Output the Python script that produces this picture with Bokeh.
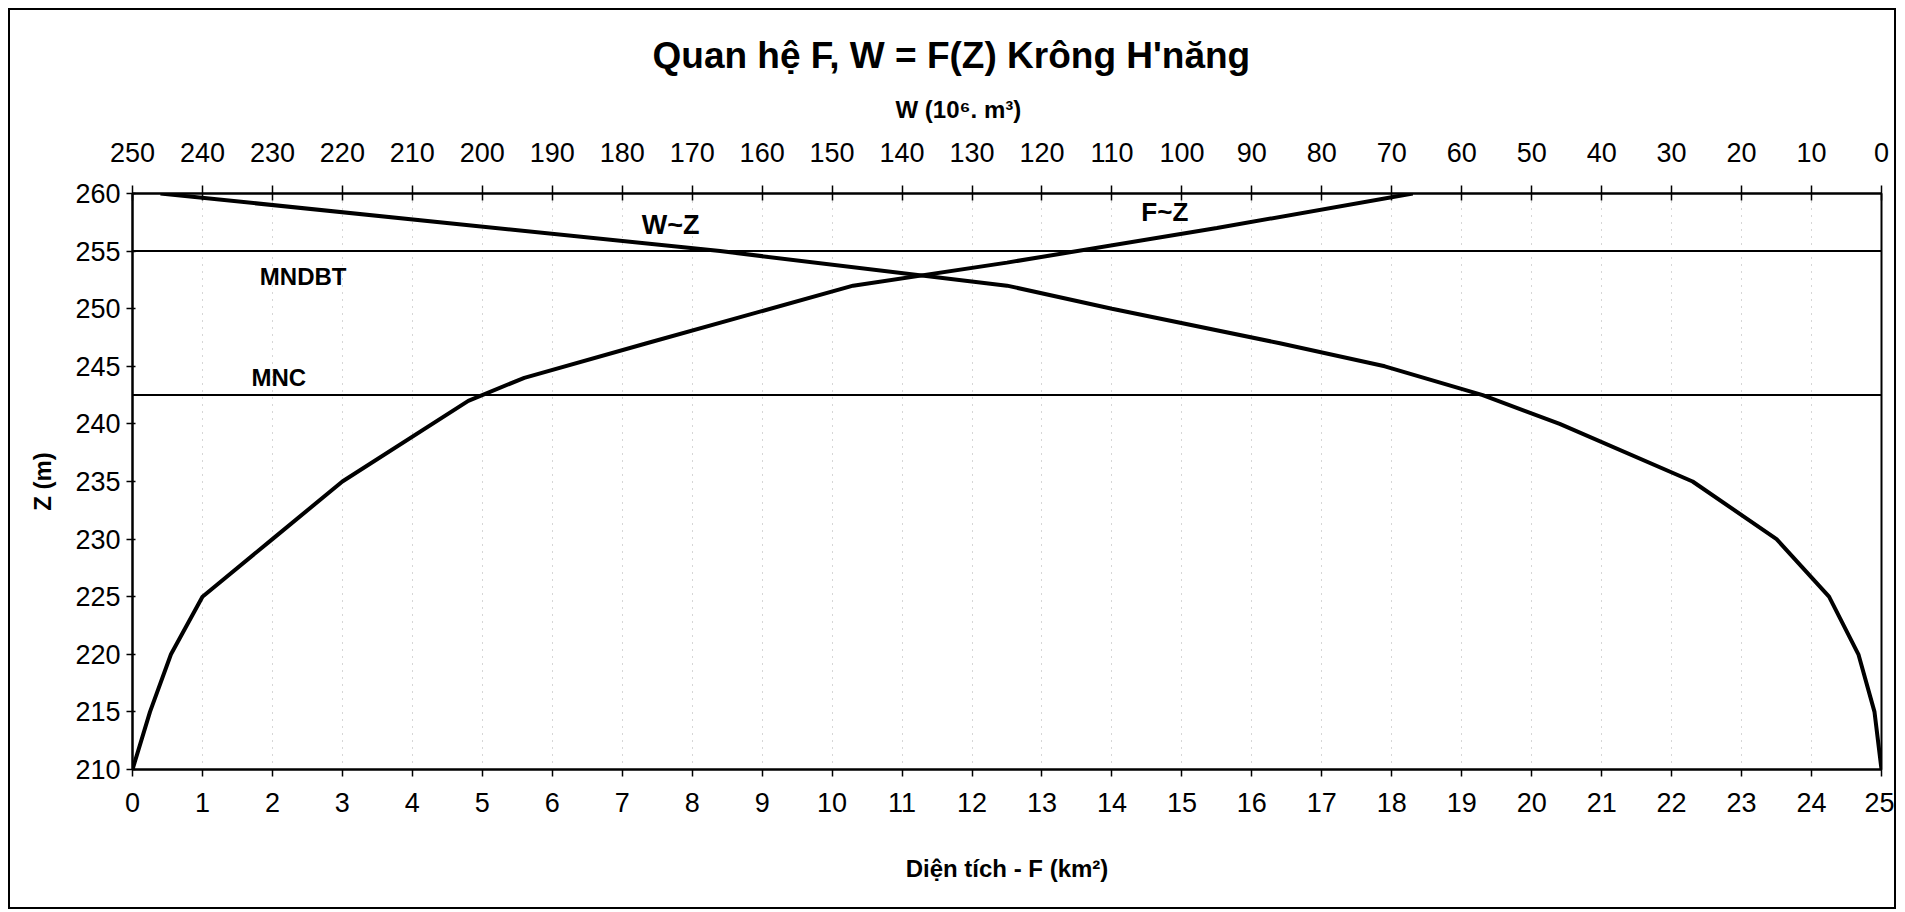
from bokeh.plotting import figure
from bokeh.models import Range1d, LinearAxis, Label, Span, FixedTicker, Title
from bokeh.embed import file_html
from bokeh.resources import INLINE

# ---- data ----
Z_F = [210, 215, 220, 225, 230, 235, 242, 244, 247, 252, 254, 257, 260]
F_KM2 = [0.0, 0.25, 0.55, 1.0, 2.0, 3.0, 4.8, 5.6, 7.35, 10.3, 12.5, 15.5, 18.3]

Z_W = [210, 215, 220, 225, 230, 235, 240, 242.5, 245, 247, 250, 252, 255, 260]
W_MM3 = [0.0, 1.0, 3.3, 7.5, 15.0, 27.0, 46.0, 57.0, 71.0, 86.0, 110.0, 125.0, 166.0, 246.0]

MNDBT = 255.0
MNC = 242.5

F_TICKS = list(range(0, 26))
W_TICKS = list(range(0, 251, 10))
Z_TICKS = list(range(210, 261, 5))

TITLE = "Quan hệ F, W = F(Z) Krông H'năng"
W_AXIS_TITLE = "W (10⁶. m³)"
F_AXIS_TITLE = "Diện tích - F (km²)"
Z_AXIS_TITLE = "Z (m)"
LEVEL_LABELS = ["MNDBT", "MNC"]
CURVE_LABELS = ["W~Z", "F~Z"]

FONT = "Liberation Sans"

p = figure(width=1888, height=901,
           x_range=Range1d(0, 25), y_range=Range1d(210, 260),
           output_backend="svg", toolbar_location=None,
           min_border_left=122, min_border_right=17,
           min_border_top=183, min_border_bottom=142,
           background_fill_color="white", border_fill_color="white")
p.styles = {"border": "2px solid black", "margin-left": "8px", "margin-top": "8px"}

p.extra_x_ranges = {"w": Range1d(start=250, end=0)}

p.outline_line_color = "black"
p.outline_line_width = 2

# grid
p.ygrid.grid_line_color = None
p.xgrid.grid_line_color = "#8a8a8a"
p.xgrid.grid_line_dash = "1 6"
p.xgrid.grid_line_width = 1
p.xgrid.grid_line_alpha = 0.7

def style_axis(ax, tick_in, tick_out, standoff):
    ax.axis_line_color = "black"
    ax.axis_line_width = 2
    ax.major_tick_line_color = "black"
    ax.major_tick_line_width = 1.5
    ax.major_tick_in = tick_in
    ax.major_tick_out = tick_out
    ax.minor_tick_line_color = None
    ax.major_label_text_font = FONT
    ax.major_label_text_font_size = "27px"
    ax.major_label_text_color = "black"
    ax.major_label_standoff = standoff
    ax.axis_label_text_font = FONT
    ax.axis_label_text_font_size = "24px"
    ax.axis_label_text_font_style = "bold"
    ax.axis_label_text_color = "black"

xa = p.xaxis[0]
xa.ticker = FixedTicker(ticks=F_TICKS)
style_axis(xa, 0, 7, 16)
xa.axis_label = F_AXIS_TITLE
xa.axis_label_standoff = 40

ya = p.yaxis[0]
ya.ticker = FixedTicker(ticks=Z_TICKS)
style_axis(ya, 3, 6, 6)
ya.axis_label = Z_AXIS_TITLE
ya.axis_label_standoff = 16

top = LinearAxis(x_range_name="w", ticker=FixedTicker(ticks=W_TICKS))
style_axis(top, 7, 8, 24)
p.add_layout(top, "above")

# titles stacked above the top axis
sub = Title(text=W_AXIS_TITLE, align="left", offset=763, text_font=FONT,
            text_font_size="24px", text_font_style="bold", text_color="black", standoff=34)
p.add_layout(sub, "above")
ttl = Title(text=TITLE, align="left", offset=520, text_font=FONT,
            text_font_size="37px", text_font_style="bold", text_color="black", standoff=2)
p.add_layout(ttl, "above")

# level lines
for lev in (MNDBT, MNC):
    p.add_layout(Span(location=lev, dimension="width", line_color="black", line_width=2))

# curves
p.line(F_KM2, Z_F, line_color="black", line_width=4)
p.line(W_MM3, Z_W, x_range_name="w", line_color="black", line_width=4)

def lab(x, y, text, size="24px"):
    p.add_layout(Label(x=x, y=y, text=text, text_font=FONT, text_font_size=size,
                       text_font_style="bold", text_align="left",
                       text_baseline="middle", text_color="black"))

lab(1.82, 252.8, LEVEL_LABELS[0])
lab(1.70, 244.0, LEVEL_LABELS[1])
lab(7.28, 257.3, CURVE_LABELS[0], size="27px")
lab(14.42, 258.4, CURVE_LABELS[1], size="26px")

open("out.html", "w").write(file_html(p, INLINE))
